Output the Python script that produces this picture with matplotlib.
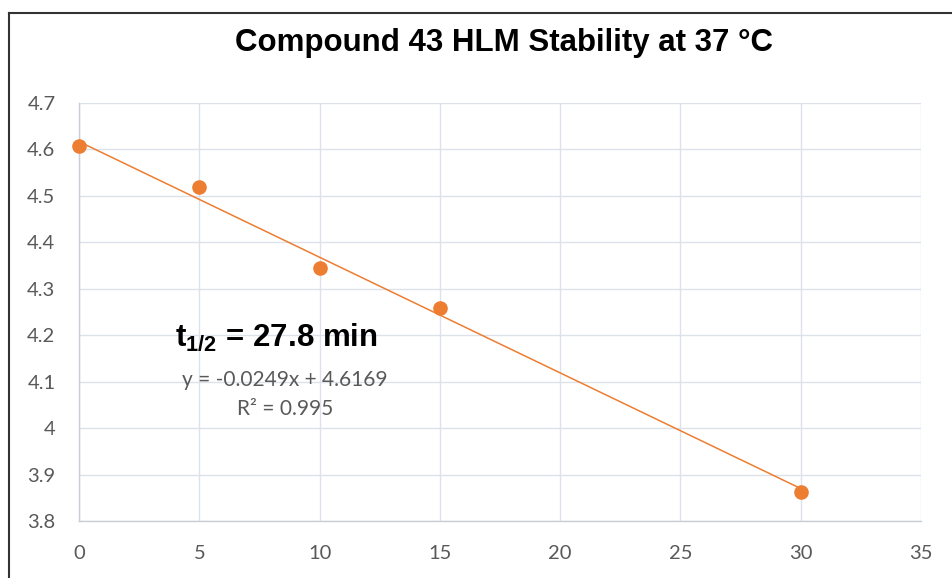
import matplotlib.pyplot as plt
from matplotlib.lines import Line2D
from matplotlib.ticker import FuncFormatter, MultipleLocator

# incubation time (min) vs ln(% remaining)
time_min = [0, 5, 10, 15, 30]
ln_remaining = [4.607, 4.519, 4.344, 4.258, 3.862]

slope = -0.0249
intercept = 4.6169
r_squared = 0.995
half_life = 27.8

orange = '#ED7D31'
grey_text = '#595959'
grid_col = '#dde1ea'

plt.rcParams['mathtext.fontset'] = 'custom'
plt.rcParams['mathtext.rm'] = 'Liberation Sans'
plt.rcParams['mathtext.bf'] = 'Liberation Sans:bold'

fig = plt.figure(figsize=(9.52, 5.78), dpi=100)
ax = fig.add_axes([0.083, 0.0986, 0.8845, 0.7232])

# trendline from the fitted equation
fit_x = [min(time_min), max(time_min)]
fit_y = [slope * x + intercept for x in fit_x]
ax.plot(fit_x, fit_y, color=orange, lw=1.1, zorder=3)
ax.plot(time_min, ln_remaining, 'o', color=orange, ms=9.5, zorder=4, clip_on=False)

ax.set_xlim(0, 35)
ax.set_ylim(3.8, 4.7)
ax.xaxis.set_major_locator(MultipleLocator(5))
ax.yaxis.set_major_locator(MultipleLocator(0.1))
ax.yaxis.set_major_formatter(FuncFormatter(lambda v, p: '%g' % round(v, 2)))
ax.grid(True, color=grid_col, lw=1.0)
ax.set_axisbelow(True)
for s in ['top', 'right']:
    ax.spines[s].set_visible(False)
for s in ['left', 'bottom']:
    ax.spines[s].set_color('#c9cdd6')
    ax.spines[s].set_linewidth(1.0)
ax.tick_params(length=0, labelsize=14.5, labelcolor=grey_text, pad=17)
for lab in ax.get_xticklabels() + ax.get_yticklabels():
    lab.set_fontfamily('Lato')

fig.text(0.529, 0.926, 'Compound 43 HLM Stability at 37 °C', ha='center', va='center',
         fontsize=22.5, fontweight='bold', family='Liberation Sans')

ax.text(8.19, 4.196, r'$\mathbf{t_{1/2}}$' + ' = %.1f min' % half_life, ha='center', va='center',
        fontsize=22.5, fontweight='bold', family='Liberation Sans', color='black')
ax.text(8.56, 4.104, 'y = %.4fx + %.4f' % (slope, intercept), ha='center', va='center',
        fontsize=15, color=grey_text, family='Lato')
ax.text(8.56, 4.041, 'R² = %.3f' % r_squared, ha='center', va='center',
        fontsize=15, color=grey_text, family='Lato')

# outer chart frame
fx = 8.5 / 952
fy = 1 - 13 / 578
fig.add_artist(Line2D([fx, fx], [0, fy], transform=fig.transFigure, color='#333333', lw=1.5))
fig.add_artist(Line2D([fx, 1], [fy, fy], transform=fig.transFigure, color='#333333', lw=1.5))

fig.savefig('out.png', dpi=100)
